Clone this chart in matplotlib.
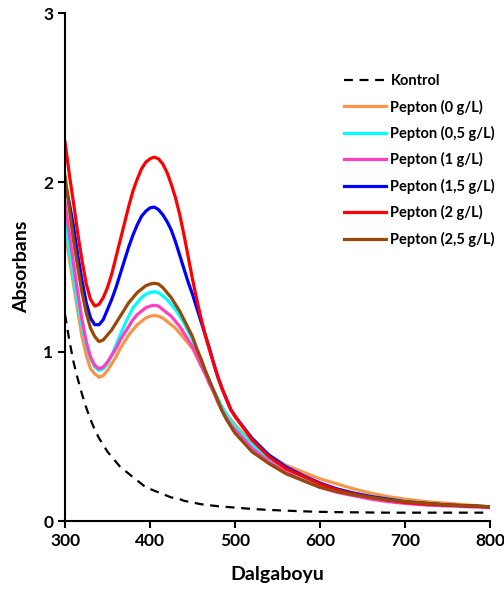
import numpy as np
import matplotlib
matplotlib.use("Agg")
import matplotlib.pyplot as plt

plt.rcParams['font.family'] = ['Lato', 'DejaVu Sans']
plt.rcParams['font.weight'] = 'bold'

wl = list(range(300, 505, 5)) + [520, 540, 560, 580, 600, 620, 640, 660, 680, 700, 725, 750, 775, 800]

kontrol = [1.22, 1.07, 0.94, 0.84, 0.75,
           0.67, 0.60, 0.54, 0.49, 0.45,
           0.41, 0.38, 0.35, 0.32, 0.30,
           0.28, 0.26, 0.24, 0.22, 0.20,
           0.19, 0.18, 0.17, 0.16, 0.15,
           0.14, 0.135, 0.13, 0.12, 0.115,
           0.11, 0.105, 0.10, 0.097, 0.094,
           0.091, 0.088, 0.086, 0.084, 0.082,
           0.08,
           0.072, 0.066, 0.062, 0.058, 0.055, 0.053, 0.052, 0.051, 0.05, 0.05, 0.05, 0.05, 0.05, 0.05]
p0 = [1.72, 1.55, 1.40, 1.24, 1.09,
      0.98, 0.90, 0.87, 0.85, 0.86,
      0.89, 0.93, 0.97, 1.02, 1.06,
      1.10, 1.13, 1.16, 1.18, 1.20,
      1.21, 1.215, 1.21, 1.20, 1.18,
      1.16, 1.14, 1.11, 1.08, 1.05,
      1.02, 0.97, 0.92, 0.87, 0.82,
      0.77, 0.72, 0.67, 0.63, 0.60,
      0.57,
      0.46, 0.39, 0.33, 0.29, 0.25, 0.22, 0.19, 0.165, 0.145, 0.13, 0.115, 0.105, 0.095, 0.085]
p05 = [1.76, 1.60, 1.44, 1.29, 1.15,
       1.04, 0.96, 0.91, 0.89, 0.90,
       0.93, 0.98, 1.04, 1.10, 1.16,
       1.21, 1.26, 1.29, 1.32, 1.34,
       1.35, 1.355, 1.35, 1.33, 1.31,
       1.28, 1.25, 1.21, 1.17, 1.12,
       1.07, 1.01, 0.95, 0.89, 0.83,
       0.77, 0.72, 0.67, 0.63, 0.59,
       0.56,
       0.45, 0.37, 0.31, 0.26, 0.22, 0.19, 0.165, 0.145, 0.13, 0.115, 0.105, 0.095, 0.09, 0.085]
p1 = [1.88, 1.70, 1.52, 1.35, 1.19,
      1.06, 0.97, 0.92, 0.90, 0.91,
      0.94, 0.98, 1.02, 1.07, 1.11,
      1.15, 1.19, 1.22, 1.24, 1.26,
      1.27, 1.275, 1.27, 1.25, 1.23,
      1.21, 1.18, 1.15, 1.11, 1.07,
      1.03, 0.98, 0.92, 0.87, 0.81,
      0.76, 0.70, 0.65, 0.61, 0.57,
      0.54,
      0.43, 0.35, 0.29, 0.24, 0.20, 0.17, 0.15, 0.13, 0.115, 0.105, 0.095, 0.09, 0.085, 0.08]
p15 = [2.00, 1.88, 1.74, 1.57, 1.42,
       1.29, 1.20, 1.16, 1.16, 1.19,
       1.25, 1.31, 1.38, 1.46, 1.54,
       1.62, 1.69, 1.75, 1.80, 1.83,
       1.85, 1.855, 1.84, 1.81, 1.77,
       1.72, 1.65, 1.57, 1.49, 1.41,
       1.34, 1.26, 1.18, 1.10, 1.02,
       0.93, 0.85, 0.78, 0.72, 0.66,
       0.62,
       0.49, 0.39, 0.32, 0.27, 0.225, 0.19, 0.165, 0.145, 0.13, 0.115, 0.105, 0.095, 0.09, 0.085]
p2 = [2.24, 2.05, 1.88, 1.70, 1.54,
      1.40, 1.31, 1.27, 1.28, 1.32,
      1.38, 1.46, 1.56, 1.66, 1.76,
      1.86, 1.95, 2.02, 2.08, 2.12,
      2.14, 2.15, 2.14, 2.11, 2.06,
      1.99, 1.91, 1.81, 1.69, 1.56,
      1.43, 1.31, 1.20, 1.10, 1.01,
      0.93, 0.85, 0.78, 0.72, 0.66,
      0.62,
      0.48, 0.38, 0.31, 0.265, 0.22, 0.185, 0.16, 0.14, 0.125, 0.11, 0.10, 0.095, 0.09, 0.083]
p25 = [2.04, 1.85, 1.66, 1.50, 1.35,
       1.23, 1.14, 1.09, 1.06, 1.07,
       1.10, 1.13, 1.17, 1.21, 1.25,
       1.29, 1.32, 1.35, 1.37, 1.39,
       1.40, 1.405, 1.40, 1.38, 1.35,
       1.32, 1.28, 1.24, 1.19, 1.14,
       1.09, 1.02, 0.96, 0.89, 0.83,
       0.77, 0.71, 0.65, 0.60, 0.56,
       0.52,
       0.41, 0.34, 0.28, 0.24, 0.20, 0.175, 0.155, 0.14, 0.125, 0.115, 0.105, 0.095, 0.09, 0.085]

series = [
    ("Pepton (0 g/L)", p0, "#F79646"),
    ("Pepton (0,5 g/L)", p05, "#00FFFF"),
    ("Pepton (1 g/L)", p1, "#FF3FBF"),
    ("Pepton (1,5 g/L)", p15, "#0000FF"),
    ("Pepton (2 g/L)", p2, "#FF0000"),
    ("Pepton (2,5 g/L)", p25, "#984807"),
]

fig = plt.figure(figsize=(5.04, 5.99), dpi=100)
ax = fig.add_axes([0.129, 0.130, 0.843, 0.848])

ax.plot(wl, kontrol, color="black", lw=1.6, ls=(0, (4, 3)), label="Kontrol")
for name, vals, col in series:
    ax.plot(wl, vals, color=col, lw=2.3, label=name, solid_joinstyle="round")

ax.set_xlim(300, 800)
ax.set_ylim(0, 3)
ax.set_xticks([300, 400, 500, 600, 700, 800])
ax.set_yticks([0, 1, 2, 3])
for s in ["top", "right"]:
    ax.spines[s].set_visible(False)
for s in ["left", "bottom"]:
    ax.spines[s].set_linewidth(1.5)
ax.tick_params(direction="out", length=5, width=1.5, labelsize=12.5)
for lab in ax.get_xticklabels() + ax.get_yticklabels():
    lab.set_fontweight("bold")
ax.set_xlabel("Dalgaboyu", fontsize=14, fontweight="bold", labelpad=12)
ax.set_ylabel("Absorbans", fontsize=14, fontweight="bold", labelpad=9)

leg = ax.legend(loc="upper left", bbox_to_anchor=(0.656, 0.88), frameon=False,
                prop={"size": 10.5, "weight": "bold"}, handlelength=2.9, handletextpad=0.3,
                labelspacing=0.78, borderaxespad=0, borderpad=0)

fig.savefig("out.png", dpi=100)
